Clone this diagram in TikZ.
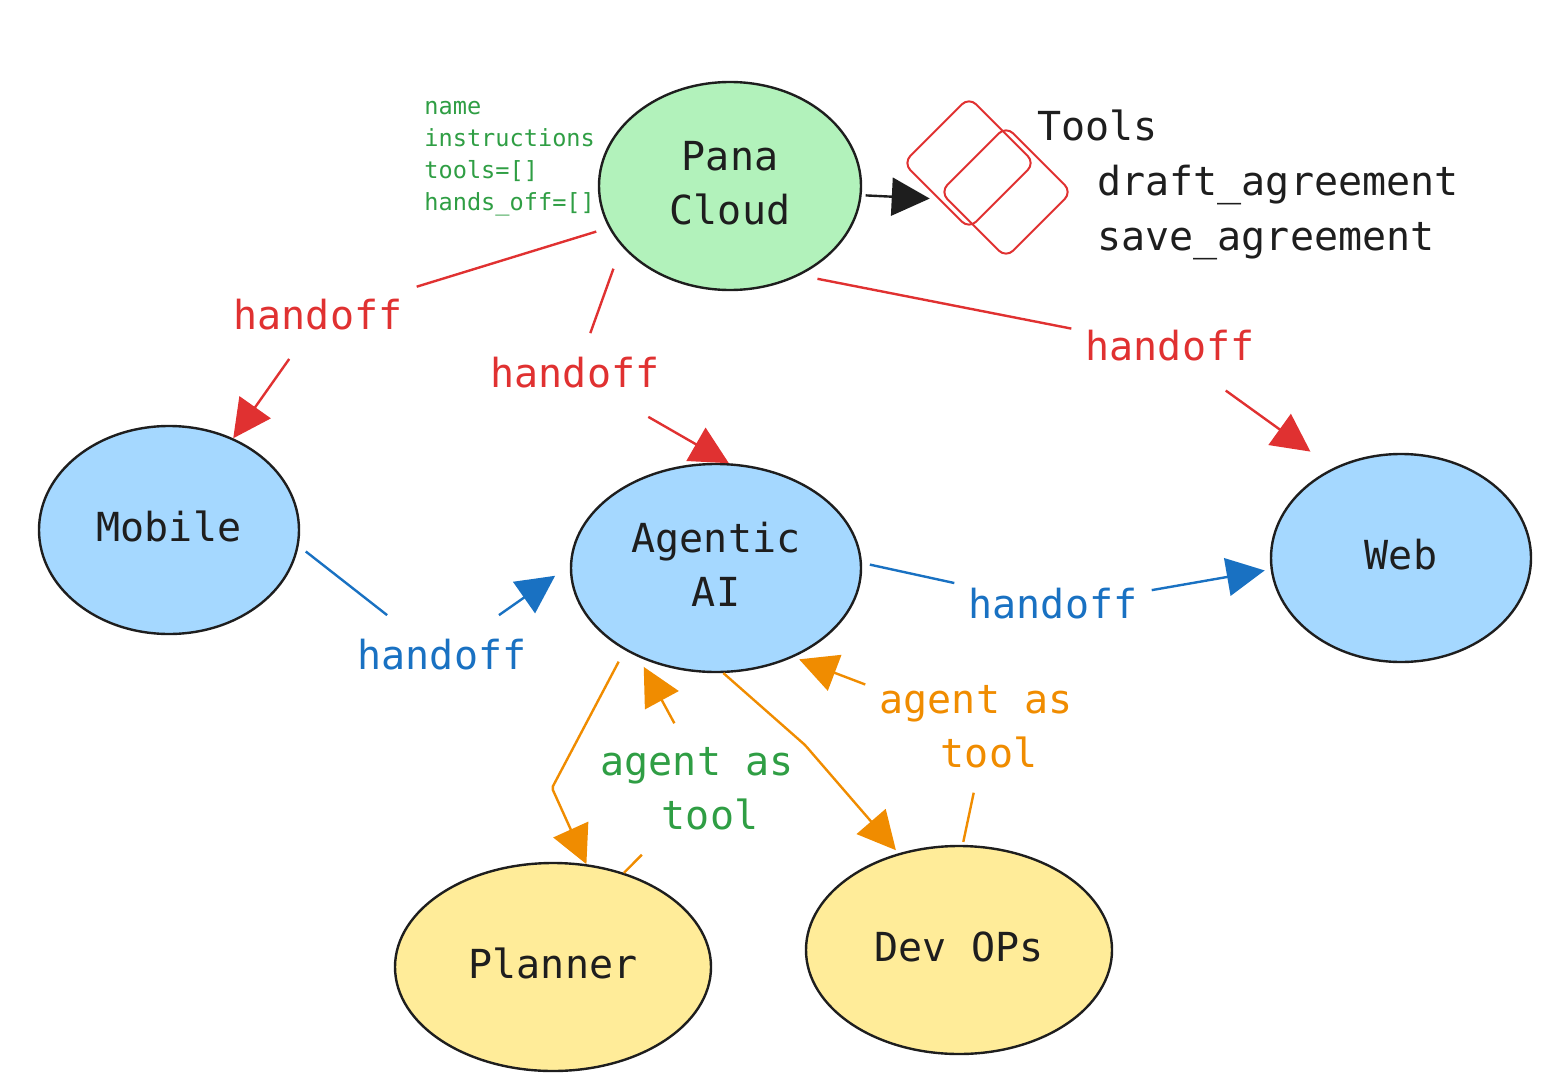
\documentclass[tikz,border=0pt]{standalone}
\usepackage{fontspec}
\setmainfont{DejaVu Sans Mono}
\usetikzlibrary{arrows.meta,shapes.geometric}
\definecolor{pInk}{HTML}{1E1E1E}
\definecolor{pRed}{HTML}{E03131}
\definecolor{pBlue}{HTML}{1971C2}
\definecolor{pOrange}{HTML}{F08C00}
\definecolor{pGreen}{HTML}{2F9E44}
\definecolor{pMint}{HTML}{B2F2BB}
\definecolor{pSky}{HTML}{A5D8FF}
\definecolor{pSand}{HTML}{FFEC99}
\tikzset{
    agent/.style={ellipse, draw=pInk, line width=1.2pt, text=pInk, inner sep=0pt, minimum height=104pt, align=center,
        text depth=3.5pt, font=\fontsize{20}{27}\selectfont},
    lbl/.style={inner xsep=7pt, inner ysep=12pt, align=center, font=\fontsize{20}{27}\selectfont},
    link/.style={line width=1.2pt, -{Triangle[length=19pt,width=19pt]}},
    tail/.style={line width=1.2pt},
    toolbox/.style={draw=pRed, line width=1pt, rounded corners=5pt, rotate=45, minimum width=46.5pt, minimum height=46.5pt}
}

\begin{document}
\begin{tikzpicture}[x=0.5pt,y=-0.5pt]
\useasboundingbox (0,0) rectangle (1546,1086);
% agents
\node[agent,fill=pMint,minimum width=131pt] (pana) at (730,186) {Pana\\Cloud};
\node[agent,fill=pSky,minimum width=130pt] (mobile) at (169,530) {Mobile};
\node[agent,fill=pSky,minimum width=145pt] (agentic) at (716,568) {Agentic\\AI};
\node[agent,fill=pSky,minimum width=130pt] (web) at (1401,558) {Web};
\node[agent,fill=pSand,minimum width=158pt] (planner) at (553,967) {Planner};
\node[agent,fill=pSand,minimum width=153pt] (devops) at (959,950) {Dev OPs};
% pana side notes
\node[anchor=west,inner sep=0pt,align=left,text=pGreen,font=\fontsize{11.8}{16}\selectfont] (spec) at (424,159)
    {name\\instructions\\tools=[]\\hands\_off=[]};
\node[toolbox] (toolA) at (969,163) {};
\node[toolbox] (toolB) at (1006,192) {};
\node[anchor=west,inner sep=0pt,align=left,text=pInk,font=\fontsize{20}{27.5}\selectfont] (tools) at (1037,185)
    {Tools\\\hspace*{30pt}draft\_agreement\\\hspace*{30pt}save\_agreement};
% labels
\node[lbl,text=pRed] (hoMobile) at (318,315) {handoff};
\node[lbl,text=pRed] (hoAgentic) at (575,373) {handoff};
\node[lbl,text=pRed] (hoWeb) at (1170,346) {handoff};
\node[lbl,text=pBlue] (hoLeft) at (442,655) {handoff};
\node[lbl,text=pBlue] (hoRight) at (1053,604) {handoff};
\node[lbl,text=pGreen] (toolPlanner) at (697,789) {agent as\\\hspace*{13pt}tool};
\node[lbl,text=pOrange] (toolDevops) at (976,727) {agent as\\\hspace*{13pt}tool};
\coordinate (bendPlanner) at (552,788);
\coordinate (bendDevops) at (805,745);
% connectors
\draw[link,pInk,shorten <=2pt,shorten >=4pt] (pana.-4) -- (toolA.184);
\draw[tail,pRed,shorten <=6.5pt] (pana.199) -- (hoMobile.16);
\draw[link,pRed,shorten <=2.5pt] (hoMobile.-123) -- (mobile.55);
\draw[tail,pRed,shorten <=12pt] (pana.209) -- (hoAgentic.69);
\draw[link,pRed,shorten <=4pt] (hoAgentic.-31) -- (agentic.83);
\draw[tail,pRed,shorten <=9pt] (pana.-52) -- (hoWeb.170);
\draw[link,pRed,shorten <=4pt,shorten >=14pt] (hoWeb.-39) -- (web.127);
\draw[tail,pBlue,shorten <=4.5pt] (mobile.-7) -- (hoLeft.144);
\draw[link,pBlue,shorten >=9pt] (hoLeft.35) -- (agentic.179);
\draw[tail,pBlue,shorten <=4pt] (agentic.2) -- (hoRight.168);
\draw[link,pBlue,shorten >=3pt] (hoRight.8) -- (web.185);
\draw[link,pOrange,shorten <=6.5pt,rounded corners=1pt] (agentic.222) -- (bendPlanner) -- (planner.72);
\draw[tail,pOrange] (planner.53) -- (toolPlanner.230);
\draw[link,pOrange,shorten >=5.5pt] (toolPlanner.109) -- (agentic.229);
\draw[link,pOrange,rounded corners=1pt,shorten >=2pt] (agentic.-86) -- (bendDevops) -- (devops.122);
\draw[tail,pOrange,shorten <=1.5pt] (devops.88) -- (toolDevops.-92);
\draw[link,pOrange,shorten >=3pt] (toolDevops.159) -- (agentic.-49);
\end{tikzpicture}
\end{document}
